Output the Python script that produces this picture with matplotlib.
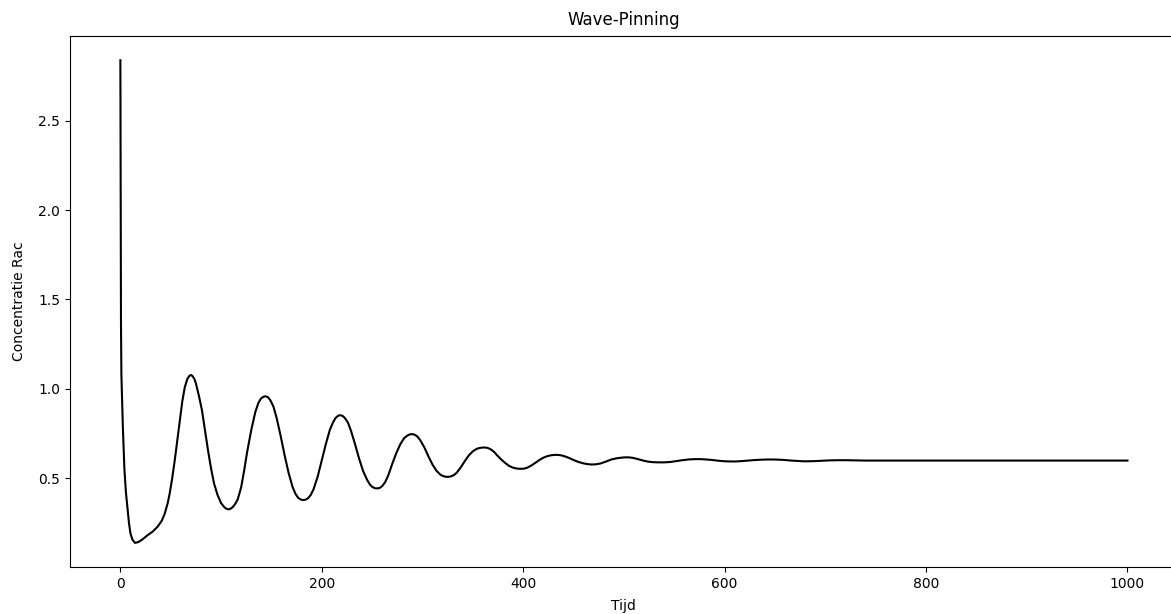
import numpy as np
import matplotlib
matplotlib.use("Agg")
import matplotlib.pyplot as plt

# -----------------------
# Data: (tijd, concentratie Rac) pairs
# -----------------------
punten = [
    (0, 2.84), (0.6, 1.37), (1, 1.08), (2.5, 0.78), (4, 0.55), (5.5, 0.42),
    (7.3, 0.32), (8.5, 0.25), (10, 0.19), (12, 0.155), (14.5, 0.137), (18, 0.142),
    (22, 0.157), (27, 0.18), (32, 0.20), (37, 0.228), (41, 0.26), (44, 0.30),
    (47, 0.36), (49, 0.415), (51.5, 0.50), (54, 0.60), (56.5, 0.71), (59, 0.824),
    (61.5, 0.93), (64, 1.01), (66.5, 1.055), (68.5, 1.072), (70, 1.077),
    (71.5, 1.072), (73.5, 1.055), (75, 1.03), (78, 0.96), (81, 0.88), (84, 0.77),
    (87, 0.656), (90, 0.555), (93, 0.47), (96.5, 0.405), (100, 0.36), (103, 0.338),
    (105, 0.329), (107, 0.325), (109, 0.327), (111.5, 0.337), (114, 0.355),
    (116.5, 0.38), (120, 0.45), (123, 0.545), (126, 0.65), (130, 0.77), (134, 0.87),
    (137, 0.92), (139.5, 0.945), (142, 0.955), (144, 0.958), (146.5, 0.953),
    (149, 0.935), (152, 0.90), (155, 0.84), (159, 0.74), (163, 0.63), (167, 0.53),
    (171, 0.45), (174, 0.41), (176.5, 0.39), (179, 0.38), (181.5, 0.377),
    (184, 0.379), (186.5, 0.388), (189, 0.405), (192, 0.44), (196, 0.51),
    (200, 0.60), (204, 0.69), (208, 0.77), (211, 0.81), (213.5, 0.835),
    (216, 0.848), (218, 0.852), (220.5, 0.849), (223, 0.836), (226, 0.81),
    (229, 0.765), (233, 0.69), (237, 0.61), (241, 0.54), (245, 0.49), (248, 0.462),
    (250.5, 0.449), (253, 0.443), (255, 0.442), (257.5, 0.445), (260, 0.455),
    (263, 0.478), (266, 0.515), (270, 0.58), (274, 0.64), (278, 0.69), (282, 0.725),
    (285, 0.738), (287.5, 0.745), (290, 0.746), (292.5, 0.742), (295, 0.732),
    (298, 0.71), (302, 0.67), (306, 0.62), (310, 0.575), (314, 0.54), (318, 0.518),
    (321, 0.51), (323.5, 0.507), (326, 0.507), (328.5, 0.51), (331, 0.516),
    (334, 0.53), (338, 0.56), (342, 0.595), (346, 0.627), (350, 0.65), (354, 0.664),
    (357, 0.669), (360, 0.671), (362.5, 0.671), (365, 0.668), (368, 0.66),
    (371, 0.647), (374, 0.628), (378, 0.605), (382, 0.585), (386, 0.568),
    (390, 0.558), (393, 0.554), (396, 0.552), (398.5, 0.552), (401, 0.553),
    (404, 0.558), (408, 0.57), (412, 0.585), (416, 0.601), (420, 0.614),
    (424, 0.623), (428, 0.628), (432, 0.63), (436, 0.629), (440, 0.624),
    (445, 0.614), (450, 0.601), (455, 0.59), (460, 0.582), (464, 0.578),
    (468, 0.576), (472, 0.577), (477, 0.582), (482, 0.592), (487, 0.603),
    (492, 0.61), (497, 0.614), (501, 0.616), (505, 0.616), (509, 0.613),
    (514, 0.606), (519, 0.598), (524, 0.592), (529, 0.589), (534, 0.588),
    (540, 0.588), (546, 0.59), (552, 0.595), (558, 0.600), (564, 0.604),
    (570, 0.606), (576, 0.606), (582, 0.604), (588, 0.601), (594, 0.597),
    (600, 0.594), (606, 0.593), (611, 0.593), (617, 0.595), (623, 0.598),
    (630, 0.601), (637, 0.603), (643, 0.604), (648, 0.604), (654, 0.603),
    (660, 0.601), (666, 0.598), (672, 0.596), (678, 0.594), (683, 0.594),
    (690, 0.595), (697, 0.597), (704, 0.599), (712, 0.600), (720, 0.600),
    (728, 0.599), (740, 0.598), (760, 0.598), (800, 0.598), (900, 0.598),
    (1000, 0.598),
]
tijd = [p[0] for p in punten]
rac = [p[1] for p in punten]

# -----------------------
# Plot
# -----------------------
fig = plt.figure(figsize=(11.71, 6.14), dpi=100)
# reference is cropped on the right, so the axes run a bit past the figure edge
ax = fig.add_axes([0.0598, 0.0765, 0.946, 0.8648])
ax.plot(tijd, rac, color='black', linewidth=1.5)
ax.set_title('Wave-Pinning', pad=8)
ax.set_xlabel('Tijd', labelpad=6)
ax.set_ylabel('Concentratie Rac', labelpad=9)

fig.savefig('out.png', dpi=100)
